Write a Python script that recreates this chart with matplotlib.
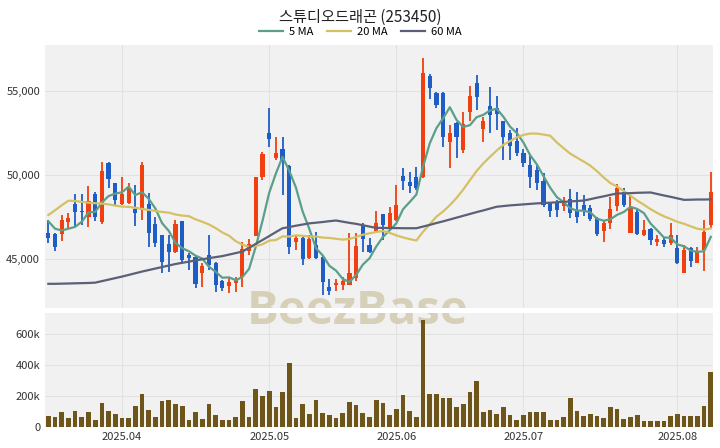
import matplotlib
matplotlib.use("Agg")
import matplotlib.pyplot as plt
import numpy as np
import pandas as pd
from matplotlib.ticker import FuncFormatter

plt.rcParams['font.family'] = ['Noto Sans CJK KR', 'DejaVu Sans']

# trading days (KRX holidays removed)
holidays = ['2025-05-01', '2025-05-05', '2025-05-06', '2025-06-03', '2025-06-06']
dates = pd.bdate_range('2025-03-17', '2025-08-08')
dates = dates[~dates.isin(pd.to_datetime(holidays))]

opens = [46560, 46490, 46490, 47220, 48270, 47880, 47480, 48870, 47180, 50690,
         49500, 48250, 48350, 47980, 47920, 48250, 47060, 46420, 45890, 45400,
         47240, 45240, 45140, 44190, 45240, 44740, 43710, 43400, 43550, 43950,
         45500, 46390, 49860, 52520, 51000, 51530, 50530, 46030, 46270, 45040,
         45830, 45140, 43350, 43450, 43430, 43450, 43850, 47020, 45830, 46690,
         47660, 46920, 47320, 49940, 49600, 49900, 49900, 55900, 54860, 54860,
         51980, 53100, 51490, 53730, 55460, 52720, 54110, 53970, 53210, 52480,
         52020, 51290, 50600, 50300, 49660, 48350, 48400, 48160, 48550, 47920,
         48210, 48020, 47420, 46690, 47120, 48160, 49010, 46530, 47820, 46430,
         46770, 46030, 46130, 45970, 45630, 44190, 45630, 44780, 45540, 47020]
highs = [47350, 46550, 47620, 47760, 48870, 48870, 49340, 48990, 50760, 50800,
         49520, 49900, 49500, 49400, 50760, 48900, 47520, 46450, 46420, 47320,
         47280, 45340, 45200, 44740, 46450, 44800, 43750, 43850, 43900, 46030,
         46170, 49900, 51390, 53970, 52240, 52280, 50600, 46430, 46300, 46430,
         46630, 45160, 43790, 43790, 43950, 46530, 46560, 47120, 46230, 47860,
         47680, 48110, 49400, 50400, 50200, 50460, 56950, 56000, 54960, 54960,
         52980, 53180, 53730, 55320, 55950, 53480, 55260, 54720, 53230, 52680,
         52800, 51530, 51130, 50600, 50100, 48410, 48510, 48710, 49150, 49010,
         48810, 48210, 47480, 47300, 48710, 49460, 49200, 48810, 47900, 47320,
         46830, 46430, 46330, 47160, 46430, 45830, 45730, 45730, 47320, 50200]
lows = [45930, 45490, 46090, 46770, 46920, 47000, 46890, 47280, 47080, 49200,
        48200, 48200, 48270, 46980, 47320, 45700, 45730, 44150, 44200, 45340,
        44740, 44350, 43300, 43350, 44350, 43060, 43100, 43000, 43060, 43350,
        45240, 46350, 49700, 51690, 50890, 48800, 45300, 45560, 44640, 45000,
        45000, 42860, 42860, 43120, 43150, 43450, 43700, 45440, 45340, 46530,
        46130, 46770, 47240, 49110, 48910, 49100, 49800, 54500, 53970, 51650,
        50400, 50990, 51330, 53200, 53900, 51980, 52480, 52700, 50890, 50890,
        51130, 50500, 49210, 49110, 48110, 47520, 47520, 47880, 47420, 47160,
        47560, 47280, 46370, 46030, 46770, 47880, 48100, 46530, 46420, 46370,
        45830, 45770, 45700, 45830, 44700, 44190, 44540, 44780, 44310, 46850]
closes = [46220, 45730, 47320, 47460, 47820, 47780, 48450, 47520, 50220, 49760,
          48510, 48840, 49200, 47720, 50600, 46560, 45930, 44840, 45430, 47060,
          44940, 45040, 43500, 44580, 44640, 43450, 43250, 43600, 43750, 45570,
          45890, 49860, 51230, 52120, 51330, 50850, 45730, 46230, 45000, 46170,
          45040, 43650, 43110, 43550, 43690, 44150, 45760, 46170, 45440, 47160,
          47020, 47760, 48210, 49640, 49320, 49250, 56050, 55160, 54170, 52280,
          52520, 52280, 53050, 54700, 54660, 53220, 53570, 53610, 52280, 51720,
          51330, 50730, 49860, 49540, 48210, 47880, 47920, 48350, 47720, 47520,
          47900, 47360, 46490, 47120, 47960, 49210, 48210, 48020, 46490, 46730,
          46100, 46170, 45900, 46430, 44740, 45540, 44900, 45500, 46630, 49010]
volumes = [68, 65, 94, 55, 106, 65, 95, 42, 154, 100,
           85, 59, 55, 134, 210, 111, 67, 166, 171, 145,
           137, 46, 95, 50, 150, 76, 46, 46, 63, 166,
           65, 248, 199, 235, 128, 223, 412, 55, 150, 85,
           171, 93, 74, 59, 91, 160, 140, 93, 67, 177,
           156, 74, 117, 208, 106, 67, 692, 214, 210, 188,
           188, 128, 145, 225, 294, 95, 112, 84, 128, 80,
           48, 78, 95, 95, 95, 48, 48, 65, 188, 106,
           71, 84, 71, 59, 128, 116, 52, 65, 80, 37,
           37, 37, 37, 71, 84, 69, 69, 69, 137, 354]  # thousands

# moving averages before enough in-chart history
ma5_head = [47250, 46800, 46700, 46800]
ma20_head = [47620, 47900, 48200, 48470, 48450, 48400, 48350, 48320, 48300, 48250,
             48180, 48120, 48100, 48050, 47980, 47920, 47860, 47800, 47760]
ma60 = [43520, 43520, 43530, 43540, 43550, 43560, 43570, 43590, 43680, 43770,
        43860, 43950, 44050, 44150, 44250, 44340, 44430, 44520, 44610, 44700,
        44770, 44840, 44910, 44980, 45050, 45110, 45170, 45260, 45350, 45440,
        45670, 45900, 46130, 46360, 46600, 46830, 46900, 46980, 47050, 47120,
        47160, 47200, 47250, 47290, 47220, 47150, 47090, 47010, 46930, 46850,
        46850, 46840, 46840, 46830, 46830, 46830, 46930, 47030, 47140, 47240,
        47350, 47460, 47570, 47680, 47790, 47890, 48000, 48110, 48150, 48190,
        48220, 48250, 48280, 48310, 48330, 48350, 48380, 48400, 48430, 48450,
        48480, 48560, 48650, 48730, 48820, 48900, 48910, 48920, 48940, 48950,
        48960, 48870, 48780, 48700, 48610, 48520, 48530, 48540, 48540, 48550]

df = pd.DataFrame({'open': opens, 'high': highs, 'low': lows, 'close': closes,
                   'volume': np.array(volumes) * 1000}, index=dates)
ma5 = df['close'].rolling(5).mean().values
ma5[:4] = ma5_head
ma20 = df['close'].rolling(20).mean().values
ma20[:19] = ma20_head

x = np.arange(len(df))
up = df['close'] >= df['open']
red, blue = '#f0400f', '#1f5dc6'
colors = np.where(up, red, blue)

fig = plt.figure(figsize=(7.2, 4.48), dpi=100)
ax = fig.add_axes([0.0625, 0.3125, 0.9275, 0.587])
axv = fig.add_axes([0.0625, 0.047, 0.9275, 0.254], sharex=ax)

for a in (ax, axv):
    a.set_facecolor('#f1f1f1')
    for s in a.spines.values():
        s.set_visible(False)
    a.grid(True, color='#e2e2e2', linewidth=0.8)
    a.set_axisbelow(True)
    a.tick_params(length=0, labelsize=8, colors='#333333')

# candles
ax.vlines(x, df['low'], df['high'], colors=colors, linewidth=1.3, zorder=2)
body_lo = np.minimum(df['open'], df['close'])
body_h = np.maximum(np.abs(df['close'] - df['open']), 60)
ax.bar(x, body_h, bottom=body_lo, width=0.62, color=colors, zorder=3)

ax.plot(x, ma5, color='#5b9e89', linewidth=1.6, label='5 MA', zorder=4)
ax.plot(x, ma20, color='#d6c064', linewidth=1.6, label='20 MA', zorder=4)
ax.plot(x, ma60, color='#5b6078', linewidth=1.6, label='60 MA', zorder=4)

ax.set_ylim(42080, 57740)
ax.set_yticks([45000, 50000, 55000])
ax.yaxis.set_major_formatter(FuncFormatter(lambda v, p: f'{int(v):,}'))
plt.setp(ax.get_xticklabels(), visible=False)

axv.bar(x, df['volume'], width=0.7, color='#6e5519', zorder=3)
axv.set_ylim(0, 735000)
axv.set_yticks([0, 200000, 400000, 600000])
axv.yaxis.set_major_formatter(FuncFormatter(lambda v, p: '0' if v == 0 else f'{int(v / 1000)}k'))

month_idx = [i for i in range(1, len(df)) if dates[i].month != dates[i - 1].month]
axv.set_xticks(month_idx)
axv.set_xticklabels([dates[i].strftime('%Y.%m') for i in month_idx])
axv.set_xlim(-0.5, 99.3)

# watermark, clipped to each panel
for a in (ax, axv):
    a.text(0.497, 0.305, 'BeezBase', transform=fig.transFigure, ha='center', va='center',
           fontsize=34, fontweight='bold', family='Open Sans', color='#cfc6a6',
           alpha=0.75, zorder=1, clip_on=True)

fig.text(0.5, 0.962, '스튜디오드래곤 (253450)', ha='center', va='center', fontsize=11,
         color='#222222', fontweight='light')
fig.legend(loc='center', bbox_to_anchor=(0.5, 0.928), ncol=3, frameon=False,
           fontsize=8, handlelength=2.2, columnspacing=1.2, handletextpad=0.5)

fig.savefig('out.png', dpi=100)
